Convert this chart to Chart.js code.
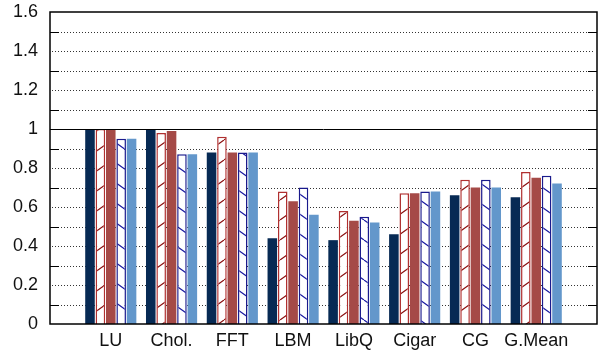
<!DOCTYPE html>
<html>
<head>
<meta charset="utf-8">
<script src="https://cdn.jsdelivr.net/npm/chart.js@4.4.0/dist/chart.umd.min.js"></script>
<style>
  html, body { margin: 0; padding: 0; background: #fff; }
  #wrap { width: 603px; height: 350px; }
</style>
</head>
<body>
<div id="wrap"><canvas id="speedup-chart"></canvas></div>
<script>
const categories = ['LU', 'Chol.', 'FFT', 'LBM', 'LibQ', 'Cigar', 'CG', 'G.Mean'];
const seriesA = [1.00, 1.00, 0.88, 0.44, 0.43, 0.46, 0.66, 0.65];
const seriesB = [1.00, 0.98, 0.96, 0.68, 0.58, 0.67, 0.74, 0.78];
const seriesC = [1.00, 0.99, 0.88, 0.63, 0.53, 0.67, 0.70, 0.75];
const seriesD = [0.95, 0.87, 0.88, 0.70, 0.55, 0.68, 0.74, 0.76];
const seriesE = [0.95, 0.87, 0.88, 0.56, 0.52, 0.68, 0.70, 0.72];
const yTicks = [0, 0.2, 0.4, 0.6, 0.8, 1, 1.2, 1.4, 1.6];

// empty slot at each end, like the gnuplot x range
const pad = arr => [null, ...arr, null];

function hatch(lineColor, forward) {
    const c = document.createElement('canvas');
    c.width = 28; c.height = 20;
    const g = c.getContext('2d');
    g.fillStyle = '#fff';
    g.fillRect(0, 0, 28, 20);
    g.strokeStyle = lineColor;
    g.lineWidth = 1.2;
    g.beginPath();
    for (let k = -1; k <= 1; k++) {
        if (forward) {
            g.moveTo(0 + k * 28, 20); g.lineTo(28 + k * 28, 0);
        } else {
            g.moveTo(0 + k * 28, 0); g.lineTo(28 + k * 28, 20);
        }
    }
    g.stroke();
    return g.createPattern(c, 'repeat');
}

const frame = {
    id: 'frame',
    beforeDatasetsDraw(chart) {
        // dotted grid every 0.1
        const { ctx, chartArea: a, scales: { y } } = chart;
        ctx.save();
        ctx.strokeStyle = '#333';
        ctx.lineWidth = 1;
        ctx.setLineDash([1, 2]);
        ctx.beginPath();
        for (let i = 1; i < 16; i++) {
            if (i === 10) continue;
            const py = Math.round(y.getPixelForValue(i / 10)) + 0.5;
            ctx.moveTo(a.left + 2, py); ctx.lineTo(a.right - 2, py);
        }
        ctx.stroke();
        ctx.restore();
    },
    afterDatasetsDraw(chart) {
        const { ctx, chartArea: a, scales: { y } } = chart;
        ctx.save();
        ctx.strokeStyle = '#000';
        ctx.lineWidth = 1;
        const y1 = Math.round(y.getPixelForValue(1)) + 0.5;
        ctx.beginPath();
        ctx.moveTo(a.left, y1); ctx.lineTo(a.right, y1);
        for (let v = 0.1; v < 1.6; v += 0.2) {
            const py = Math.round(y.getPixelForValue(v)) + 0.5;
            ctx.moveTo(a.left, py); ctx.lineTo(a.left + 9, py);
            ctx.moveTo(a.right, py); ctx.lineTo(a.right - 9, py);
        }
        ctx.stroke();
        ctx.lineWidth = 1.5;
        ctx.strokeRect(a.left, a.top, a.right - a.left, a.bottom - a.top);
        ctx.restore();
    }
};

const ctx = document.getElementById('speedup-chart');

new Chart(ctx, {
    type: 'bar',
    data: {
        labels: ['', ...categories, ''],
        datasets: [
            { data: pad(seriesA), backgroundColor: '#072a54', borderWidth: 0 },
            { data: pad(seriesB), backgroundColor: hatch('#8b1010', true), borderColor: '#b03030', borderWidth: 1.5 },
            { data: pad(seriesC), backgroundColor: '#a54a47', borderWidth: 0 },
            { data: pad(seriesD), backgroundColor: hatch('#1a1aa0', false), borderColor: '#1a1a8c', borderWidth: 1.5 },
            { data: pad(seriesE), backgroundColor: '#6397cb', borderWidth: 0 }
        ]
    },
    options: {
        responsive: true,
        maintainAspectRatio: false,
        animation: false,
        layout: { padding: { top: 12, right: 6, left: 0, bottom: 0 } },
        plugins: { legend: { display: false }, tooltip: { enabled: false } },
        datasets: { bar: { categoryPercentage: 0.855, barPercentage: 0.92 } },
        scales: {
            x: {
                offset: false,
                afterFit(scale) {
                    scale.height = 26;
                    scale.paddingLeft = 0; scale.paddingRight = 0;
                },
                grid: { display: false, drawTicks: false },
                border: { display: false },
                ticks: {
                    autoSkip: false, maxRotation: 0, padding: 6,
                    color: '#111', font: { family: 'Liberation Sans', size: 18 }
                }
            },
            y: {
                min: 0,
                max: 1.6,
                afterFit(scale) {
                    scale.width = 50;
                    scale.paddingTop = 0; scale.paddingBottom = 0;
                },
                afterBuildTicks(scale) {
                    scale.ticks = yTicks.map(v => ({ value: v }));
                },
                grid: { display: false, drawTicks: false },
                border: { display: false },
                ticks: {
                    padding: 12,
                    color: '#111',
                    font: { family: 'Liberation Sans', size: 18 },
                    callback: v => String(v)
                }
            }
        }
    },
    plugins: [frame]
});
</script>
</body>
</html>
